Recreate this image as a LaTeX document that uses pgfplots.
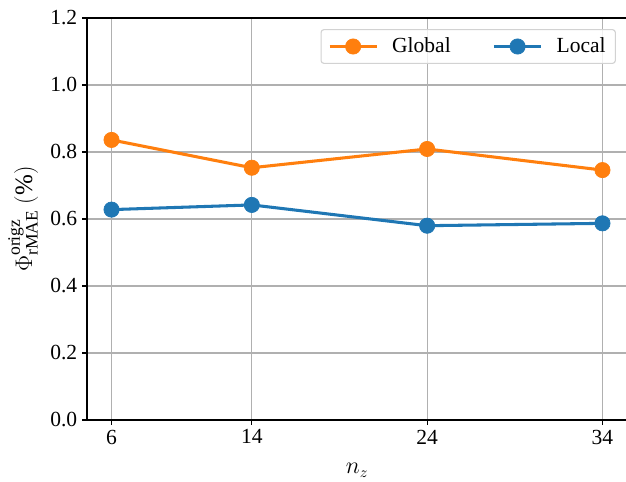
\documentclass[border=0pt]{standalone}
\usepackage{fontspec}
\setmainfont{Liberation Serif}
\usepackage{pgfplots}
\pgfplotsset{compat=1.18}
\definecolor{mplorange}{HTML}{FF7F0E}
\definecolor{mplblue}{HTML}{1F77B4}
\definecolor{gridgray}{HTML}{B0B0B0}
\begin{document}
\begin{tikzpicture}
\path[use as bounding box] (-62.64pt,-44.64pt) rectangle (388.08pt,302.4pt);
\begin{axis}[
  at={(0,0)}, anchor=south west,
  scale only axis,
  width=388.8pt, height=289.44pt,
  xmin=4.6, xmax=35.4,
  ymin=0, ymax=1.2,
  xtick={6,14,24,34},
  ytick={0,0.2,0.4,0.6,0.8,1.0,1.2},
  yticklabel style={/pgf/number format/.cd, fixed, fixed zerofill, precision=1},
  /pgf/number format/assume math mode=true,
  tick label style={font=\fontsize{15.5}{18}\selectfont},
  label style={font=\fontsize{16}{18}\selectfont},
  grid=major,
  grid style={gridgray, line width=0.8pt},
  axis line style={line width=0.9pt},
  tick style={black, line width=0.9pt},
  tick align=outside,
  major tick length=3.5pt,
  xtick pos=bottom, ytick pos=left,
  xlabel={$n_z$},
  ylabel={$\Phi^{\mathrm{origz}}_{\mathrm{rMAE}}$ $(\%)$},
  xlabel style={yshift=-7pt},
  ylabel style={yshift=2pt, font=\fontsize{18}{21}\selectfont},
  legend columns=2,
  legend style={at={(1,1)}, anchor=north east, xshift=-8pt, yshift=-8pt,
    draw=gray!35, line width=0.8pt, rounded corners=2pt,
    fill=white, fill opacity=0.8, text opacity=1,
    font=\fontsize{15.5}{18}\selectfont,
    /tikz/every even column/.append style={column sep=28pt},
    inner xsep=5pt, inner ysep=4pt},
  legend image code/.code={\draw[#1, opacity=1, mark repeat=2, mark phase=2] plot coordinates {(0pt,0pt) (17pt,0pt) (34pt,0pt)}; \path (42pt,0pt);},
]
\addplot[mplorange, line width=2.2pt, mark=*, mark size=5.5pt, mark options={solid, fill=mplorange, draw=mplorange, line width=0.5pt}]
  coordinates {(6,0.836) (14,0.753) (24,0.809) (34,0.746)};
\addlegendentry{Global}
\addplot[mplblue, line width=2.2pt, mark=*, mark size=5.5pt, mark options={solid, fill=mplblue, draw=mplblue, line width=0.5pt}]
  coordinates {(6,0.628) (14,0.642) (24,0.580) (34,0.587)};
\addlegendentry{Local}
\end{axis}
\end{tikzpicture}
\end{document}
